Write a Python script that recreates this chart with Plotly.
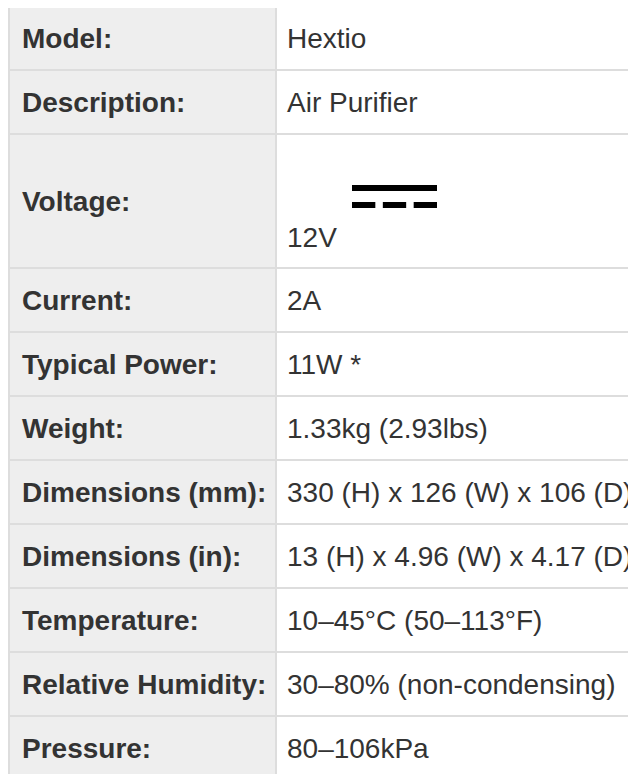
import plotly.graph_objects as go

# ---- data ----
labels = ["Model:", "Description:", "Voltage:", "Current:", "Typical Power:",
          "Weight:", "Dimensions (mm):", "Dimensions (in):", "Temperature:",
          "Relative Humidity:", "Pressure:"]
values = ["Hextio", "Air Purifier", "12V", "2A", "11W *", "1.33kg (2.93lbs)",
          "330 (H) x 126 (W) x 106 (D)", "13 (H) x 4.96 (W) x 4.17 (D)",
          "10–45°C (50–113°F)", "30–80% (non-condensing)", "80–106kPa"]
dc_symbol_row = "Voltage:"   # row whose value carries the DC (⎓) symbol

# ---- layout constants (page pixels; the html body adds an 8px margin) ----
PAGE_W, PAGE_H = 636, 774
BODY_MARGIN = 8
W, H = PAGE_W - BODY_MARGIN, PAGE_H - BODY_MARGIN
TOP = 6 - BODY_MARGIN
LEFT = 8 - BODY_MARGIN + 1
DIV = 276 - BODY_MARGIN
RIGHT = W + 20
ROW_H = 64
TALL_ROW_H = 134
LABEL_X = 20 - BODY_MARGIN
VALUE_X = 285 - BODY_MARGIN
LINE_C = "#dddddd"
LABEL_BG = "#eeeeee"
TEXT_C = "#333333"
FONT = "Liberation Sans, Arial, sans-serif"
FS = 28

heights = [TALL_ROW_H if lab == dc_symbol_row else ROW_H for lab in labels]
bounds = [TOP]
for h in heights:
    bounds.append(bounds[-1] + h)
centers = [(bounds[i] + bounds[i + 1]) / 2 for i in range(len(labels))]

value_y = [c + 36 if lab == dc_symbol_row else c for lab, c in zip(labels, centers)]

fig = go.Figure()

shapes = []
# label column background
shapes.append(dict(type="rect", xref="x", yref="y", x0=LEFT, x1=DIV,
                   y0=TOP, y1=bounds[-1], fillcolor=LABEL_BG,
                   line=dict(width=0), layer="below"))
# horizontal lines
for b in bounds[:-1]:
    shapes.append(dict(type="line", xref="x", yref="y", x0=LEFT - 1, x1=RIGHT,
                       y0=b, y1=b, line=dict(color=LINE_C, width=2), layer="below"))
# vertical lines
for xv in (LEFT, DIV):
    shapes.append(dict(type="line", xref="x", yref="y", x0=xv, x1=xv,
                       y0=TOP, y1=bounds[-1], line=dict(color=LINE_C, width=2),
                       layer="below"))

# DC symbol (solid bar over three dashes) in the voltage value cell
vi = labels.index(dc_symbol_row)
sx0 = DIV + 76
sw = 85
sy = bounds[vi] + 51
shapes.append(dict(type="rect", xref="x", yref="y", x0=sx0, x1=sx0 + sw,
                   y0=sy, y1=sy + 6, fillcolor="#000000", line=dict(width=0)))
gap = 7.5
dash_w = (sw - 2 * gap) / 3
for k in range(3):
    d0 = sx0 + k * (dash_w + gap)
    shapes.append(dict(type="rect", xref="x", yref="y", x0=d0, x1=d0 + dash_w,
                       y0=sy + 17, y1=sy + 23, fillcolor="#000000",
                       line=dict(width=0)))

annotations = []
for lab, y in zip(labels, centers):
    annotations.append(dict(x=LABEL_X, y=y, xref="x", yref="y", text=lab,
                            showarrow=False, xanchor="left", yanchor="middle",
                            font=dict(family=FONT, size=FS, color=TEXT_C,
                                      weight="bold")))
for val, y in zip(values, value_y):
    annotations.append(dict(x=VALUE_X, y=y, xref="x", yref="y", text=val,
                            showarrow=False, xanchor="left", yanchor="middle",
                            font=dict(family=FONT, size=FS, color=TEXT_C)))

# invisible anchor trace so the axes exist
fig.add_trace(go.Scatter(x=[0, W], y=[0, H], mode="markers",
                         marker=dict(opacity=0), hoverinfo="skip",
                         showlegend=False))

fig.update_layout(
    width=W, height=H,
    margin=dict(l=0, r=0, t=0, b=0),
    paper_bgcolor="white", plot_bgcolor="white",
    shapes=shapes, annotations=annotations,
    xaxis=dict(range=[0, W], visible=False, fixedrange=True),
    yaxis=dict(range=[H, 0], visible=False, fixedrange=True),
    showlegend=False,
)

fig.write_html("out.html")
